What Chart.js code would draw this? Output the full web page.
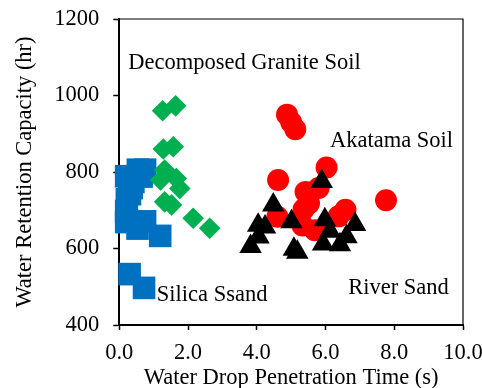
<!DOCTYPE html>
<html>
<head>
<meta charset="utf-8">
<script src="https://cdn.jsdelivr.net/npm/chart.js@4/dist/chart.umd.min.js"></script>
<style>
  html, body { margin: 0; padding: 0; background: #fff; }
  #wrap { width: 482px; height: 388px; }
</style>
</head>
<body>
<div id="wrap"><canvas id="c" width="482" height="388"></canvas></div>
<script>
// Water drop penetration time (s) vs water retention capacity (hr)
const silicaX  = [0.75, 0.54, 0.2, 0.65, 0.41, 0.36, 0.31, 0.22, 0.2, 0.2, 0.75, 0.53, 1.19, 0.3, 0.72];
const silicaY  = [806, 806, 789, 788, 774, 758, 742, 729, 698, 669, 671, 652, 633, 533, 497];

const graniteX = [1.26, 1.64, 1.28, 1.57, 1.32, 1.2, 1.66, 1.76, 1.32, 1.52, 2.15, 2.63];
const graniteY = [960, 973, 860, 866, 805, 779, 783, 757, 722, 714, 679, 653];

const akatamaX = [4.88, 5.0, 5.12, 6.03, 4.62, 7.76, 5.42, 5.8, 5.52, 5.36, 4.6, 5.33, 5.69, 6.38, 6.58];
const akatamaY = [950, 930, 912, 812, 779, 726, 748, 758, 718, 702, 683, 660, 648, 684, 701];

const riverX   = [5.89, 4.48, 4.04, 4.24, 3.82, 4.05, 5.01, 5.08, 5.18, 5.98, 5.93, 6.86, 6.61, 6.42, 6.13];
const riverY   = [775, 714, 661, 656, 605, 630, 670, 598, 590, 675, 612, 663, 631, 610, 645];

// Text labels placed in data units
const labelText = ['Decomposed Granite Soil', 'Akatama Soil', 'Silica Ssand', 'River Sand'];
const labelX    = [0.26, 6.13, 1.09, 6.66];
const labelY    = [1085, 882, 478, 496];

const xTicks = [0, 2, 4, 6, 8, 10];
const yTicks = [400, 600, 800, 1000, 1200];

const FONT = "'Liberation Serif', 'Times New Roman', serif";
const toPts = (xs, ys) => xs.map((x, i) => ({ x: x, y: ys[i] }));

const framePlugin = {
  id: 'frame',
  beforeDatasetsDraw(chart) {
    const { ctx, chartArea: a } = chart;
    ctx.save();
    ctx.strokeStyle = '#000';
    ctx.lineWidth = 1.2;
    ctx.beginPath();
    ctx.moveTo(a.left, a.top);
    ctx.lineTo(a.right, a.top);
    ctx.lineTo(a.right, a.bottom);
    ctx.stroke();
    ctx.restore();
  }
};

const labelPlugin = {
  id: 'seriesLabels',
  afterDatasetsDraw(chart) {
    const { ctx, scales } = chart;
    ctx.save();
    ctx.fillStyle = '#000';
    ctx.font = '22.5px ' + FONT;
    ctx.textAlign = 'left';
    ctx.textBaseline = 'middle';
    labelText.forEach((t, i) => {
      ctx.fillText(t, scales.x.getPixelForValue(labelX[i]), scales.y.getPixelForValue(labelY[i]));
    });
    ctx.restore();
  }
};

new Chart(document.getElementById('c'), {
  type: 'scatter',
  data: {
    datasets: [
      { label: 'Silica Ssand', data: toPts(silicaX, silicaY), pointStyle: 'rect', pointRadius: 16,
        backgroundColor: '#0070C0', borderWidth: 0, order: 4 },
      { label: 'Decomposed Granite Soil', data: toPts(graniteX, graniteY), pointStyle: 'rectRot', pointRadius: 10.8,
        backgroundColor: '#00B050', borderWidth: 0, order: 3 },
      { label: 'Akatama Soil', data: toPts(akatamaX, akatamaY), pointStyle: 'circle', pointRadius: 11,
        backgroundColor: '#FF0000', borderWidth: 0, order: 2 },
      { label: 'River Sand', data: toPts(riverX, riverY), pointStyle: 'triangle', pointRadius: 13,
        backgroundColor: '#000000', borderWidth: 0, order: 1 }
    ]
  },
  options: {
    responsive: false,
    animation: false,
    events: [],
    clip: false,
    layout: { padding: { top: 19, right: 19, left: 0, bottom: 0 } },
    plugins: { legend: { display: false }, tooltip: { enabled: false } },
    scales: {
      x: {
        type: 'linear', min: 0, max: 10,
        afterBuildTicks: s => { s.ticks = xTicks.map(v => ({ value: v })); },
        afterFit: s => { s.height = 63; s.paddingLeft = 0; s.paddingRight = 0; },
        border: { display: true, color: '#000', width: 2 },
        grid: { display: true, drawOnChartArea: false, drawTicks: true, tickLength: 5, tickColor: '#000', tickWidth: 1.5 },
        ticks: { color: '#000', padding: 10, maxRotation: 0, font: { family: FONT, size: 22.5 },
                 callback: v => Number(v).toFixed(1) },
        title: { display: true, text: 'Water Drop Penetration Time (s)', color: '#000',
                 font: { family: FONT, size: 22.5 }, padding: { top: 0, bottom: -3.5 } }
      },
      y: {
        type: 'linear', min: 400, max: 1200,
        afterBuildTicks: s => { s.ticks = yTicks.map(v => ({ value: v })); },
        afterFit: s => { s.width = 119.3; s.paddingTop = 0; s.paddingBottom = 0; },
        border: { display: true, color: '#000', width: 2 },
        grid: { display: true, drawOnChartArea: false, drawTicks: true, tickLength: 6, tickColor: '#000', tickWidth: 1.5 },
        ticks: { color: '#000', padding: 14, font: { family: FONT, size: 22.5 },
                 callback: v => String(v) },
        title: { display: true, text: 'Water Retention Capacity (hr)', color: '#000',
                 font: { family: FONT, size: 22.5 }, padding: { top: 11.5, bottom: 0 } }
      }
    }
  },
  plugins: [framePlugin, labelPlugin]
});
</script>
</body>
</html>
